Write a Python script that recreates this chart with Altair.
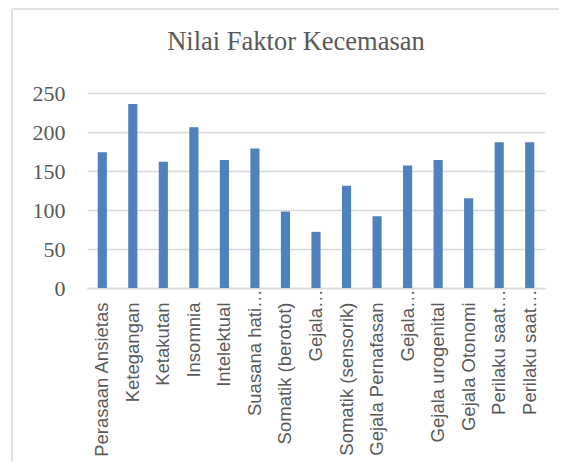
import json
import altair as alt
import pandas as pd

labels = ["Perasaan Ansietas", "Ketegangan", "Ketakutan", "Insomnia", "Intelektual",
          "Suasana hati…", "Somatik (berotot)", "Gejala…", "Somatik (sensorik)",
          "Gejala Pernafasan", "Gejala…", "Gejala urogenital", "Gejala Otonomi",
          "Perilaku saat…", "Perilaku saat…"]
values = [174, 236, 162, 206, 164, 179, 98, 72, 131, 92, 157, 164, 115, 187, 187]
y_ticks = [0, 50, 100, 150, 200, 250]

df = pd.DataFrame({"idx": list(range(len(labels))), "nilai": values})

GRID = "#d9d9d9"
TXT = "#595959"
lab_js = json.dumps(labels)

bars = alt.Chart(df).mark_bar(color="#4f81bd").encode(
    x=alt.X("idx:O", title=None,
            scale=alt.Scale(paddingInner=0.7, paddingOuter=0.35),
            axis=alt.Axis(labelExpr=lab_js + "[datum.value]",
                          labelAngle=270, labelFont="Liberation Sans", labelFontSize=18.5,
                          labelColor=TXT, labelLimit=400,
                          labelPadding={"condition": {"test": "indexof(" + lab_js + "[datum.value], '…') >= 0",
                                                      "value": 1},
                                        "value": 14},
                          ticks=False, domainColor=GRID, domainWidth=1.5)),
    y=alt.Y("nilai:Q", title=None,
            scale=alt.Scale(domain=[0, 250], nice=False),
            axis=alt.Axis(values=y_ticks, labelFont="Liberation Serif", labelFontSize=22,
                          labelColor=TXT, labelPadding=22, ticks=False, domain=False,
                          gridColor=GRID, gridWidth=1.5)),
)

frame_src = pd.DataFrame({"a": [0]})
frame_left = alt.Chart(frame_src).mark_rule(color=GRID, strokeWidth=1.5).encode(
    x=alt.value(-75), y=alt.value(-84), y2=alt.value(500))
frame_top = alt.Chart(frame_src).mark_rule(color=GRID, strokeWidth=1.5).encode(
    x=alt.value(-75), x2=alt.value(500), y=alt.value(-84))

chart = alt.layer(frame_left, frame_top, bars).properties(
    width=458, height=195,
    title=alt.Title("Nilai Faktor Kecemasan", font="Liberation Serif", fontSize=26.5,
                    fontWeight="normal", color=TXT, baseline="alphabetic",
                    offset=-68, dx=-20),
    autosize=alt.AutoSizeParams(type="none"),
    padding={"left": 79, "top": 85, "right": 14, "bottom": 173},
).configure_view(stroke=None)

chart.save("out.html", embed_options={"renderer": "svg", "actions": False})
